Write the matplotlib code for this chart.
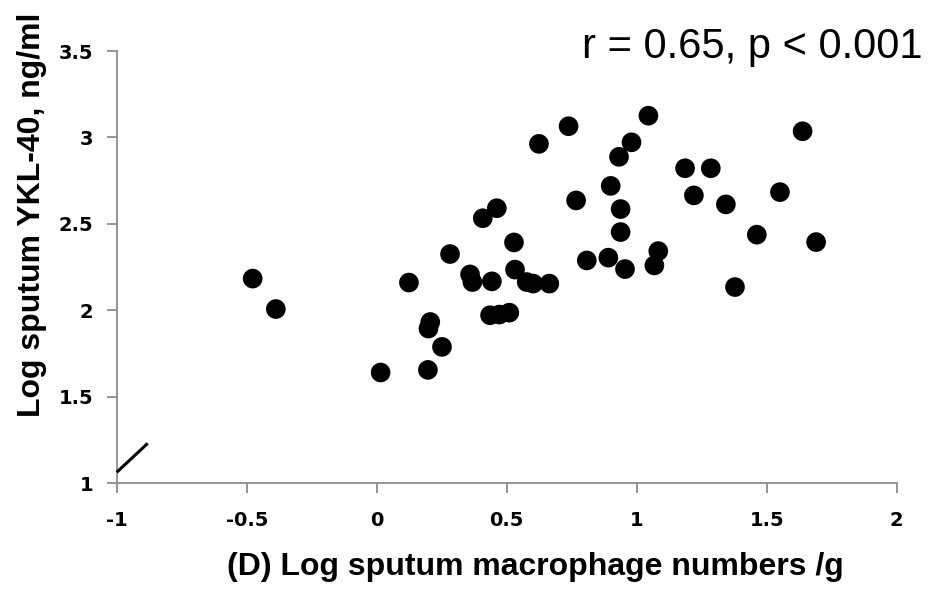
import matplotlib
matplotlib.use("Agg")
import matplotlib.pyplot as plt

# Data
macrophage_log = [-0.477, -0.388, 0.015, 0.124, 0.197, 0.199, 0.206, 0.251, 0.282,
                  0.359, 0.368, 0.408, 0.436, 0.443, 0.462, 0.472, 0.510, 0.528,
                  0.532, 0.577, 0.602, 0.624, 0.664, 0.738, 0.767, 0.808, 0.891,
                  0.900, 0.932, 0.938, 0.938, 0.955, 0.980, 1.045, 1.068, 1.083,
                  1.186, 1.220, 1.285, 1.343, 1.378, 1.462, 1.551, 1.638, 1.690]
ykl40_log = [2.184, 2.008, 1.641, 2.161, 1.656, 1.895, 1.933, 1.789, 2.326,
             2.208, 2.164, 2.533, 1.972, 2.168, 2.591, 1.976, 1.987, 2.393,
             2.236, 2.164, 2.155, 2.963, 2.155, 3.065, 2.636, 2.289, 2.305,
             2.720, 2.888, 2.586, 2.453, 2.239, 2.972, 3.126, 2.260, 2.343,
             2.822, 2.665, 2.822, 2.613, 2.135, 2.438, 2.684, 3.036, 2.395]

x_ticks = [-1, -0.5, 0, 0.5, 1, 1.5, 2]
x_tick_labels = ["-1", "-0.5", "0", "0.5", "1", "1.5", "2"]
y_ticks = [1, 1.5, 2, 2.5, 3, 3.5]
y_tick_labels = ["1", "1.5", "2", "2.5", "3", "3.5"]

# axis-break mark near origin
break_x = [-1.0, -0.881]
break_y = [1.064, 1.231]

x_label = "(D) Log sputum macrophage numbers /g"
y_label = "Log sputum YKL-40, ng/ml"
annotation = "r = 0.65, p < 0.001"

fig = plt.figure(figsize=(9.36, 5.89), dpi=100)
ax = fig.add_axes([0.1247, 0.1794, 0.8333, 0.7340])

ax.scatter(macrophage_log, ykl40_log, s=200, color="black", edgecolors="none",
           zorder=3, clip_on=False)
ax.plot(break_x, break_y, color="black", lw=2.2, solid_capstyle="butt",
        clip_on=False, zorder=3)

ax.set_xlim(-1, 2)
ax.set_ylim(1, 3.5)
ax.set_xticks(x_ticks)
ax.set_xticklabels(x_tick_labels)
ax.set_yticks(y_ticks)
ax.set_yticklabels(y_tick_labels)

for side in ("top", "right"):
    ax.spines[side].set_visible(False)
for side in ("left", "bottom"):
    ax.spines[side].set_color("#8c8c8c")
    ax.spines[side].set_linewidth(1.3)

ax.tick_params(axis="both", direction="out", length=7, width=1.3, color="#8c8c8c")
ax.tick_params(axis="x", pad=13)
ax.tick_params(axis="y", pad=10)
for lab in ax.get_xticklabels() + ax.get_yticklabels():
    lab.set_fontfamily("DejaVu Sans")
    lab.set_fontweight("bold")
    lab.set_fontsize(14)
    lab.set_color("black")

fig.text(0.572, 1 - 575 / 589, x_label, ha="center", va="baseline",
         fontsize=23, fontweight="bold", family="Liberation Sans")
fig.text(0.034, 0.635, y_label, ha="center", va="center", rotation=90,
         fontsize=23, fontweight="bold", family="Liberation Sans")
fig.text(0.986, 1 - 58 / 589, annotation, ha="right", va="baseline",
         fontsize=30, family="Liberation Sans")

fig.savefig("out.png", dpi=100, facecolor="white")
